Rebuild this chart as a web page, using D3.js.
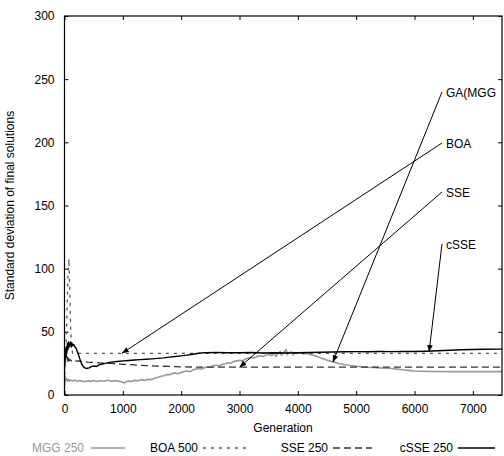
<!DOCTYPE html>
<html><head><meta charset="utf-8">
<script src="https://cdn.jsdelivr.net/npm/d3@7"></script>
<style>
body{margin:0;background:#fff;}
text{font-family:"Liberation Sans",Arial,Helvetica,sans-serif;}
</style></head>
<body><svg id="c" width="504" height="456"></svg>
<script>
const xTicks = [0,1000,2000,3000,4000,5000,6000,7000];
const yTicks = [0,50,100,150,200,250,300];
const xLabel = "Generation";
const yLabel = "Standard deviation of final solutions";

const mggX = [0,10,20,30,45,60,80,100,140,180,220,260,300,350,400,450,500,560,620,680,740,800,860,920,980,1020,1060,1100,1150,1200,1260,1320,1380,1440,1500,1550,1600,1650,1700,1750,1800,1850,1900,1950,2000,2050,2100,2150,2200,2250,2300,2350,2400,2450,2500,2550,2600,2650,2700,2750,2800,2850,2900,2950,3000,3050,3100,3150,3200,3250,3300,3350,3400,3450,3500,3550,3600,3620,3650,3700,3720,3750,3800,3820,3850,3900,3920,3950,4000,4050,4100,4150,4200,4250,4300,4350,4400,4450,4500,4550,4600,4650,4700,4750,4800,4850,4900,5000,5100,5200,5300,5400,5500,5600,5700,5800,5900,6000,6100,6300,6600,7000,7500];
const mggY = [7,15,12,13,11,12.5,11,12,11,11.8,10.8,11.5,11,10.5,11.2,10.8,11.5,10.7,11.3,10.9,11.6,10.8,11.4,11,10.4,9.5,10.6,11,10.7,11.6,11.2,12,11.6,12.4,12.2,13.5,14,14.8,15.3,16.3,16,17,17.5,16.8,17.8,18.6,19,18.4,19.8,20.5,21,20.6,21.5,22.3,22,23.2,23.5,23,24.2,24.8,25.5,25.2,26.5,27,27.5,27,28.5,29.2,29.8,29.3,30.4,31,30.4,31.5,32,31.2,33.5,30.5,32.4,34.5,31.5,33,36,32,33.5,34,31.8,33.2,32.8,33.5,32.5,33,32,31.6,31,30,29.2,28.5,27.6,27,26.2,25.8,25,24.6,24,23.8,23.3,22.8,22.4,22,21.8,21.5,21.2,21,20.5,20,19.5,19,18.8,18.6,18.5,18.5,18.5];

const boaX = [0,20,40,60,75,90,105,120,140,7500];
const boaY = [10,30,60,95,108,85,55,38,33,33];

const sseX = [0,10,20,30,40,50,60,70,80,100,130,160,200,250,300,400,500,600,700,800,900,1000,1200,1400,1600,1800,2000,2300,2600,7500];
const sseY = [20,30,26,32,27,30,26,29,27,28,26.5,27.5,26.8,27,26.5,26,25.8,25.5,25.2,25,24.6,24.3,23.8,23.3,22.9,22.6,22.3,22.1,22,22];

const csseX = [0,10,20,30,40,50,60,70,80,90,100,110,120,130,140,160,180,200,230,260,290,320,350,380,420,460,500,550,600,650,700,750,800,900,1000,1100,1200,1300,1400,1500,1600,1700,1800,1900,2000,2100,2200,2300,2400,2600,2800,3000,3200,3400,3600,3800,4000,4200,4400,4600,4800,5000,5200,5400,5600,5800,6000,6200,6400,6600,6800,7000,7200,7500];
const csseY = [28,35,30,38,33,41,36,42,38,41,39,42,38,41,39,40,38,37,33,29,25,22.5,21.5,21,21.5,22.5,23,22.6,24,24.5,25,25.5,26,26.5,27,27.3,27.7,28,28.3,28.6,29,29.4,30,30.5,31,31.6,32.3,33,33.5,33.6,33.5,33.4,33.6,33.3,33.5,33.2,33.4,33.6,33.8,34,34.2,34.3,34.2,34.4,34.3,34.5,34.4,34.6,35,35.4,35.8,36,36.2,36.3];

const seriesNames = ["MGG 250","BOA 500","SSE 250","cSSE 250"];
const annLabels = ["GA(MGG","BOA","SSE","cSSE"];
const annTargetX = [4600,985,3000,6250];
const annTargetY = [26,33,22,34];

const svg = d3.select("#c");
const x = d3.scaleLinear().domain([0,7500]).range([64.5,502]);
const y = d3.scaleLinear().domain([0,300]).range([395,16]);

// axes
const gl = svg.append("g").attr("transform","translate(64.5,0)")
  .call(d3.axisLeft(y).tickValues(yTicks).tickSizeInner(-4).tickSizeOuter(0).tickPadding(10).tickFormat(d3.format("d")));
const gr = svg.append("g").attr("transform","translate(502,0)")
  .call(d3.axisRight(y).tickValues(yTicks).tickSizeInner(-4).tickSizeOuter(0).tickFormat(""));
const gb = svg.append("g").attr("transform","translate(0,395)")
  .call(d3.axisBottom(x).tickValues(xTicks).tickSizeInner(-4).tickSizeOuter(0).tickPadding(9).tickFormat(d3.format("d")));
const gt = svg.append("g").attr("transform","translate(0,16)")
  .call(d3.axisTop(x).tickValues(xTicks).tickSizeInner(-4).tickSizeOuter(0).tickFormat(""));
[gl,gr,gb,gt].forEach(g=>{
  g.select(".domain").remove();
  g.selectAll("text").attr("font-size",12).attr("font-family","Liberation Sans, Arial, sans-serif").attr("fill","#000");
  g.selectAll("line").attr("stroke","#000");
});

// lines
svg.append("clipPath").attr("id","pc").append("rect")
  .attr("x",64.5).attr("y",16).attr("width",437.5).attr("height",379);
const line = d3.line().x(d=>x(d[0])).y(d=>y(d[1]));
const zip = (a,b)=>a.map((v,i)=>[v,b[i]]);
const styles = [
  {xs:mggX, ys:mggY, stroke:"#999", w:1.6, dash:null},
  {xs:boaX, ys:boaY, stroke:"#555", w:1.3, dash:"3,5"},
  {xs:sseX, ys:sseY, stroke:"#333", w:1.3, dash:"7,4"},
  {xs:csseX, ys:csseY, stroke:"#000", w:1.4, dash:null}
];
const pg = svg.append("g").attr("clip-path","url(#pc)");
styles.forEach(s=>{
  pg.append("path").attr("d",line(zip(s.xs,s.ys))).attr("fill","none")
    .attr("stroke",s.stroke).attr("stroke-width",s.w)
    .attr("stroke-dasharray",s.dash).attr("stroke-linejoin","round");
});

// frame
svg.append("rect").attr("x",64.5).attr("y",16).attr("width",437.5).attr("height",379)
  .attr("fill","none").attr("stroke","#000").attr("stroke-width",1.2);

// annotations
svg.append("defs").append("marker").attr("id","ah").attr("viewBox","0 0 10 10")
  .attr("refX",10).attr("refY",5).attr("markerWidth",7).attr("markerHeight",7)
  .attr("markerUnits","userSpaceOnUse").attr("orient","auto")
  .append("path").attr("d","M0,1 L10,5 L0,9 z").attr("fill","#000");
const labelY = [92,143,192,244];
annLabels.forEach((t,i)=>{
  svg.append("line").attr("x1",442).attr("y1",labelY[i])
    .attr("x2",x(annTargetX[i])).attr("y2",y(annTargetY[i]))
    .attr("stroke","#000").attr("stroke-width",1).attr("marker-end","url(#ah)");
  svg.append("text").attr("x",446).attr("y",labelY[i]+4.5).attr("font-size",12).text(t);
});

// axis titles
svg.append("text").attr("x",283).attr("y",432).attr("text-anchor","middle").attr("font-size",12).text(xLabel);
svg.append("text").attr("transform","translate(14,205.5) rotate(-90)").attr("text-anchor","middle").attr("font-size",12).text(yLabel);

// legend
const legTextEnd = [84,198,328,453];
const legSample = [[91,125],[203,248],[333,372],[458,495]];
seriesNames.forEach((n,i)=>{
  svg.append("text").attr("x",legTextEnd[i]).attr("y",452).attr("text-anchor","end")
    .attr("font-size",12).attr("fill", i===0?"#999":"#000").text(n);
  svg.append("line").attr("x1",legSample[i][0]).attr("x2",legSample[i][1])
    .attr("y1",448).attr("y2",448).attr("stroke",styles[i].stroke)
    .attr("stroke-width",styles[i].w).attr("stroke-dasharray",styles[i].dash);
});
</script></body></html>
